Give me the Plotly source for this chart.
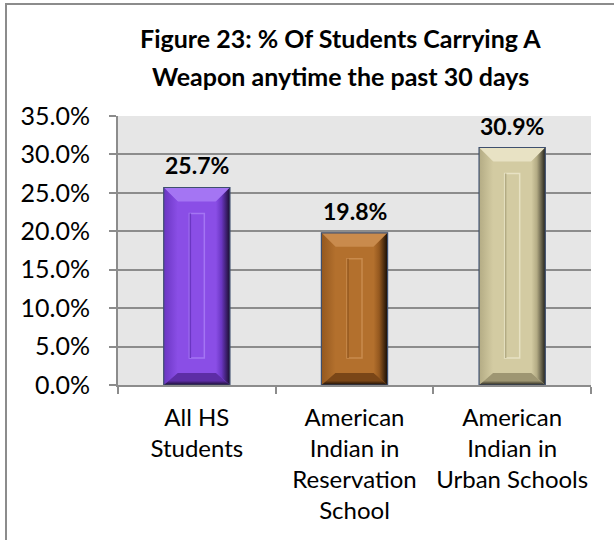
import plotly.graph_objects as go

# ---- data ----
categories = [
    "All HS<br>Students",
    "American<br>Indian in<br>Reservation<br>School",
    "American<br>Indian in<br>Urban Schools",
]
values = [25.7, 19.8, 30.9]
value_labels = [f"{v:.1f}%" for v in values]
title_lines = ["Figure 23: % Of Students Carrying A", "Weapon anytime the past 30 days"]

# ---- bar styling ----
face_colors = ["#8a4ee6", "#b3702d", "#d3cba2"]
top_colors = ["#a475f3", "#c98b4d", "#e8e2c4"]
left_colors = ["#6a36c2", "#94581f", "#b3ab84"]
bottom_colors = ["#5d2da6", "#7a4617", "#9e9672"]
dark_colors = ["#1a0d2e", "#160c04", "#25231a"]

Y_MAX = 35
FONT = "Lato"
GRAY = "#8c8c8c"

# plot-area geometry (pixels) used to size the bevels
L_M, R_M, T_M, B_M = 118, 23, 116, 155
W, H = 614, 540
plot_w = W - L_M - R_M
plot_h = H - T_M - B_M
ux = len(values) / plot_w      # x units per pixel
uy = Y_MAX / plot_h            # y units per pixel

BAR_W = 0.42
half = BAR_W / 2
bev_x = 14 * ux
bev_top = 14 * uy
bev_bot = 12 * uy
groove_half = 7.5 * ux
groove_top_inset = 26 * uy
groove_bot = 27 * uy

xs = list(range(len(values)))

fig = go.Figure()

fig.add_trace(go.Bar(
    x=xs, y=values, width=BAR_W,
    marker=dict(color=face_colors, line=dict(width=0)),
    hoverinfo="skip", showlegend=False,
))


def poly(px, py, color=None, gradient=None):
    kw = dict(x=px + [px[0]], y=py + [py[0]], mode="lines", fill="toself",
              line=dict(width=0), hoverinfo="skip", showlegend=False)
    if gradient is not None:
        kw["fillgradient"] = gradient
    else:
        kw["fillcolor"] = color
    fig.add_trace(go.Scatter(**kw))


shapes = []
for i, v in enumerate(values):
    lx, rx = i - half, i + half
    # top bevel
    poly([lx, rx, rx - bev_x, lx + bev_x], [v, v, v - bev_top, v - bev_top], color=top_colors[i])
    # left bevel
    poly([lx, lx + bev_x, lx + bev_x, lx], [v, v - bev_top, bev_bot, 0],
         gradient=dict(type="horizontal",
                       colorscale=[[0, left_colors[i]], [1, face_colors[i]]]))
    # right bevel, shading to near black
    poly([rx, rx - bev_x, rx - bev_x, rx], [v, v - bev_top, bev_bot, 0],
         gradient=dict(type="horizontal",
                       colorscale=[[0, face_colors[i]], [0.4, left_colors[i]], [1, dark_colors[i]]]))
    # bottom bevel
    poly([lx, rx, rx - bev_x, lx + bev_x], [0, 0, bev_bot, bev_bot],
         gradient=dict(type="vertical",
                       colorscale=[[0, dark_colors[i]], [0.35, bottom_colors[i]], [1, bottom_colors[i]]]))

    # engraved groove in the face
    shapes.append(dict(type="rect", xref="x", yref="y", layer="above",
                       x0=i - groove_half, x1=i + groove_half,
                       y0=groove_bot, y1=v - groove_top_inset,
                       fillcolor=face_colors[i],
                       line=dict(color=top_colors[i], width=1.5)))
    shapes.append(dict(type="line", xref="x", yref="y", layer="above",
                       x0=i - groove_half + ux, x1=i - groove_half + ux,
                       y0=groove_bot, y1=v - groove_top_inset,
                       line=dict(color=left_colors[i], width=1.5)))
    # bar outline
    shapes.append(dict(type="rect", xref="x", yref="y", layer="above",
                       x0=lx, x1=rx, y0=0, y1=v,
                       line=dict(color="#3e4f6e", width=1.2)))

# outer chart frame
shapes.append(dict(type="rect", xref="paper", yref="paper", layer="above",
                   x0=(6 - L_M) / plot_w, x1=(W + 20 - L_M) / plot_w,
                   y0=(plot_h + T_M - (H + 20)) / plot_h, y1=(plot_h + T_M - 4) / plot_h,
                   line=dict(color=GRAY, width=2), fillcolor="rgba(0,0,0,0)"))

annotations = []
for i, (v, t) in enumerate(zip(values, value_labels)):
    annotations.append(dict(x=i, y=v, xref="x", yref="y", text=f"<b>{t}</b>",
                            showarrow=False, yanchor="middle", yshift=22,
                            font=dict(family=FONT, size=23, color="black")))

title_x = (340 - L_M) / plot_w
for line, ypx in zip(title_lines, [38, 76]):
    annotations.append(dict(x=title_x, y=(plot_h + T_M - ypx) / plot_h,
                            xref="paper", yref="paper", text=f"<b>{line}</b>",
                            showarrow=False, xanchor="center", yanchor="middle",
                            font=dict(family=FONT, size=25, color="black")))

fig.update_layout(
    width=W, height=H,
    margin=dict(l=L_M, r=R_M, t=T_M, b=B_M),
    paper_bgcolor="white",
    plot_bgcolor="#e6e6e6",
    font=dict(family=FONT, color="black"),
    shapes=shapes,
    annotations=annotations,
    showlegend=False,
)

fig.update_xaxes(
    range=[-0.5, len(values) - 0.5],
    tickmode="array", tickvals=xs, ticktext=categories,
    ticks="", showgrid=False, zeroline=False,
    showline=True, linecolor=GRAY, linewidth=2,
    tickfont=dict(family=FONT, size=24, color="black"),
    ticklabelstandoff=10,
    minor=dict(tickmode="array", tickvals=[k - 0.5 for k in range(len(values) + 1)],
               ticks="outside", ticklen=7, tickwidth=2, tickcolor=GRAY, showgrid=False),
)

fig.update_yaxes(
    range=[0, Y_MAX], dtick=5, tickformat=".1f", ticksuffix="%",
    showgrid=True, gridcolor=GRAY, gridwidth=1.5,
    zeroline=False,
    showline=True, linecolor=GRAY, linewidth=2,
    ticks="outside", ticklen=7, tickwidth=2, tickcolor=GRAY,
    tickfont=dict(family=FONT, size=25, color="black"),
    ticklabelstandoff=14,
)

fig.write_html("out.html")
